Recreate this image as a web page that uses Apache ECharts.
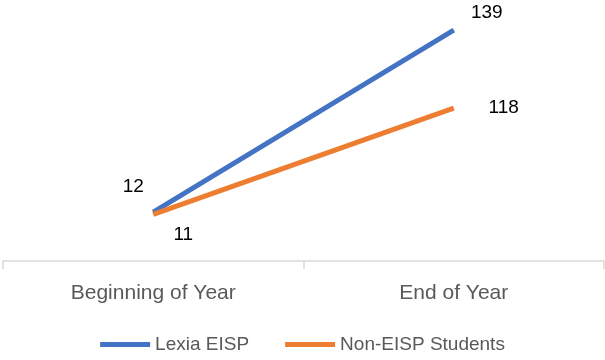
<!DOCTYPE html>
<html>
<head>
<meta charset="utf-8">
<script src="https://cdn.jsdelivr.net/npm/echarts@6/dist/echarts.min.js"></script>
<style>
  html, body { margin: 0; padding: 0; background: #fff; }
  #chart { width: 605px; height: 360px; }
</style>
</head>
<body>
<div id="chart"></div>
<script>
  // data
  var categories = ['Beginning of Year', 'End of Year'];
  var seriesNames = ['Lexia EISP', 'Non-EISP Students'];
  var lexiaValues = [12, 139];
  var nonEispValues = [11, 118];

  var fontFamily = '"Liberation Sans", Arial, sans-serif';

  // label placement next to each point (dx, dy)
  var lexiaOffsets = [[-20, -25], [33, -17]];
  var nonEispOffsets = [[30, 20], [50, 0]];

  function withLabels(values, offsets) {
    return values.map(function (v, i) {
      return { value: v, label: { offset: offsets[i] } };
    });
  }

  var myChart = echarts.init(document.getElementById('chart'));
  var option = {
    animation: false,
    color: ['#4472C4', '#ED7D31'],
    grid: {
      left: 3,
      right: 1,
      top: 10,
      bottom: 99,
      containLabel: false
    },
    legend: {
      bottom: 1,
      left: 'center',
      itemWidth: 50,
      itemHeight: 5,
      itemGap: 36,
      icon: 'rect',
      data: seriesNames,
      textStyle: {
        fontFamily: fontFamily,
        fontSize: 19,
        color: '#595959'
      }
    },
    xAxis: {
      type: 'category',
      boundaryGap: true,
      data: categories,
      axisLine: {
        show: true,
        onZero: false,
        lineStyle: { color: '#d9d9d9', width: 1.5 }
      },
      axisTick: {
        show: true,
        length: 8,
        lineStyle: { color: '#d9d9d9', width: 1.5 }
      },
      axisLabel: {
        margin: 22,
        fontFamily: fontFamily,
        fontSize: 21,
        color: '#595959'
      }
    },
    yAxis: [
      { type: 'value', show: false, min: -22, max: 153, splitLine: { show: false } },
      { type: 'value', show: false, min: -36, max: 217, splitLine: { show: false } }
    ],
    series: [
      {
        name: seriesNames[0],
        type: 'line',
        yAxisIndex: 0,
        symbol: 'circle',
        symbolSize: 1,
        lineStyle: { width: 5, color: '#4472C4' },
        itemStyle: { color: '#4472C4' },
        label: {
          show: true,
          position: 'inside',
          fontFamily: fontFamily,
          fontSize: 19,
          color: '#000'
        },
        data: withLabels(lexiaValues, lexiaOffsets)
      },
      {
        name: seriesNames[1],
        type: 'line',
        yAxisIndex: 1,
        symbol: 'circle',
        symbolSize: 1,
        lineStyle: { width: 5, color: '#ED7D31' },
        itemStyle: { color: '#ED7D31' },
        label: {
          show: true,
          position: 'inside',
          fontFamily: fontFamily,
          fontSize: 19,
          color: '#000'
        },
        data: withLabels(nonEispValues, nonEispOffsets)
      }
    ]
  };
  myChart.setOption(option);
</script>
</body>
</html>
